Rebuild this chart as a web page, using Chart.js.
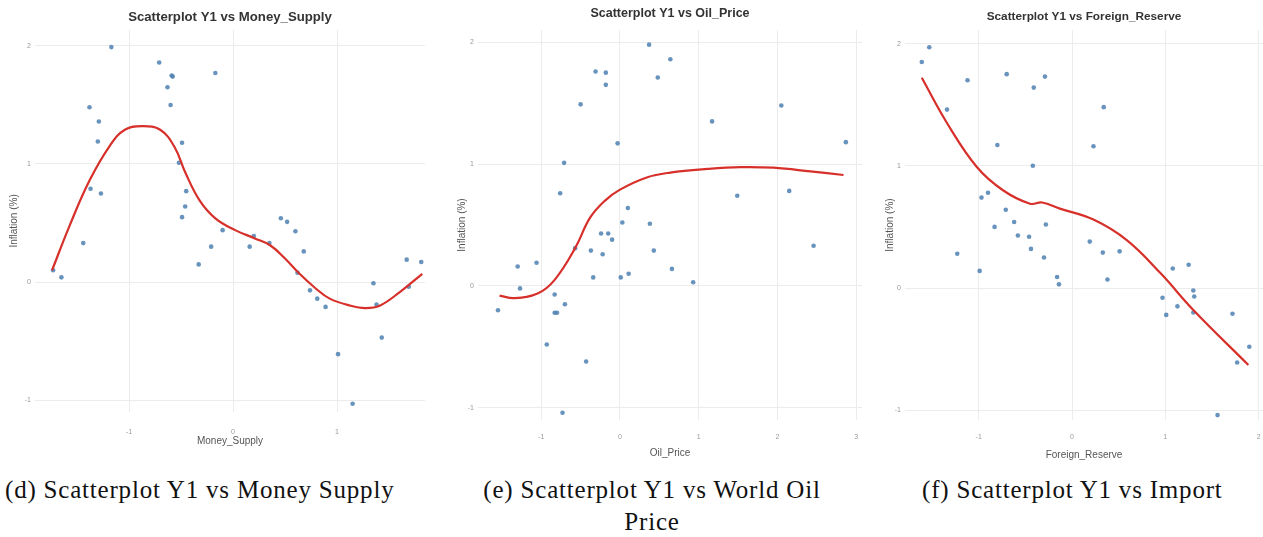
<!DOCTYPE html>
<html>
<head>
<meta charset="utf-8">
<script src="https://cdn.jsdelivr.net/npm/chart.js@4"></script>
<style>
  body { margin: 0; background: #fff; width: 1263px; height: 537px; position: relative; overflow: hidden; }
  canvas { position: absolute; top: 0; }
  .cap { position: absolute; font-family: "Liberation Serif", serif; font-size: 25px; line-height: 32px; letter-spacing: 0.8px; color: #111; white-space: nowrap; }
</style>
</head>
<body>
<canvas id="c1" width="425" height="455" style="left:0px"></canvas>
<canvas id="c2" width="422" height="465" style="left:440px"></canvas>
<canvas id="c3" width="393" height="465" style="left:870px"></canvas>
<div class="cap" style="left:5px;top:474px">(d) Scatterplot Y1 vs Money Supply</div>
<div class="cap" style="left:442px;width:420px;top:474px;text-align:center;white-space:normal">(e) Scatterplot Y1 vs World Oil<br>Price</div>
<div class="cap" style="left:922px;top:474px">(f) Scatterplot Y1 vs Import</div>
<script>
// ===== DATA =====

const yTicks = [-1, 0, 1, 2];

// Money_Supply
const msX = [-1.73, -1.65, -1.44, -1.38, -1.29, -1.30, -1.37, -1.27, -1.17, -0.71, -0.58, -0.63, -0.60, -0.59,
  -0.49, -0.52, -0.45, -0.46, -0.49, -0.17, -0.33, -0.21, -0.10, 0.16, 0.20, 0.35, 0.46, 0.52, 0.60, 0.68,
  0.62, 0.74, 0.81, 0.89, 1.01, 1.15, 1.35, 1.38, 1.43, 1.67, 1.81, 1.69];
const msY = [0.10, 0.04, 0.33, 1.48, 1.36, 1.19, 0.79, 0.75, 1.99, 1.86, 1.74, 1.65, 1.50, 1.75,
  1.18, 1.01, 0.77, 0.64, 0.55, 1.77, 0.15, 0.30, 0.44, 0.30, 0.39, 0.33, 0.54, 0.51, 0.43, 0.26,
  0.08, -0.07, -0.14, -0.21, -0.61, -1.03, -0.01, -0.19, -0.47, 0.19, 0.17, -0.04];
const msFitX = [-1.74, -1.57, -1.38, -1.18, -1.04, -0.875, -0.70, -0.56, -0.46, -0.32, -0.17, 0.02, 0.21,
  0.36, 0.50, 0.64, 0.79, 0.93, 1.13, 1.27, 1.41, 1.61, 1.82];
const msFitY = [0.10, 0.48, 0.86, 1.16, 1.29, 1.32, 1.29, 1.14, 0.93, 0.69, 0.54, 0.44, 0.37,
  0.31, 0.20, 0.07, -0.05, -0.14, -0.20, -0.22, -0.20, -0.08, 0.07];
const msTicksX = [-1, 0, 1];

// Oil_Price
const oilX = [0.37, 0.64, -0.31, -0.18, -0.18, 0.48, -0.50, 2.05, 1.17, -0.03, 2.87, -0.71, -0.76, 1.49,
  2.15, 0.10, 0.03, 0.38, 2.46, -0.24, -0.15, -0.10, -1.30, -1.06, -1.27, -1.55, -0.83, -0.70, -0.83,
  -0.80, -0.93, -0.43, -0.73, -0.37, -0.22, -0.34, 0.01, 0.11, 0.43, 0.66, 0.93, -0.57];
const oilY = [1.98, 1.86, 1.76, 1.75, 1.65, 1.71, 1.49, 1.48, 1.35, 1.17, 1.18, 1.01, 0.76, 0.74,
  0.78, 0.64, 0.52, 0.51, 0.33, 0.43, 0.43, 0.38, 0.16, 0.19, -0.02, -0.20, -0.07, -0.15, -0.22,
  -0.22, -0.48, -0.62, -1.04, 0.29, 0.26, 0.07, 0.07, 0.10, 0.29, 0.14, 0.03, 0.31];
const oilFitX = [-1.53, -1.34, -1.04, -0.83, -0.57, -0.38, -0.19, 0.0, 0.34, 0.64, 1.11, 1.53, 1.95, 2.42, 2.84];
const oilFitY = [-0.08, -0.10, -0.06, 0.05, 0.31, 0.56, 0.70, 0.79, 0.89, 0.93, 0.96, 0.975, 0.97, 0.94, 0.91];
const oilTicksX = [-1, 0, 1, 2, 3];

// Foreign_Reserve
const frX = [-1.53, -1.61, -1.12, -0.70, -0.41, -0.29, -1.34, 0.34, -0.80, 0.23, -0.42, -0.97, -0.90, -0.71,
  -0.83, -0.62, -0.58, -0.46, -0.44, -0.28, -0.30, -1.23, -0.99, -0.16, -0.14, 0.19, 0.33, 0.51, 0.38,
  1.08, 1.25, 0.97, 1.01, 1.13, 1.30, 1.31, 1.30, 1.72, 1.90, 1.77, 1.56];
const frY = [1.97, 1.85, 1.70, 1.75, 1.64, 1.73, 1.46, 1.48, 1.17, 1.16, 1.00, 0.74, 0.78, 0.64,
  0.50, 0.54, 0.43, 0.42, 0.32, 0.52, 0.25, 0.28, 0.14, 0.09, 0.03, 0.38, 0.29, 0.30, 0.07,
  0.16, 0.19, -0.08, -0.22, -0.15, -0.02, -0.07, -0.20, -0.21, -0.48, -0.61, -1.04];
const frFitX = [-1.61, -1.34, -1.02, -0.74, -0.45, -0.32, -0.13, 0.23, 0.59, 0.95, 1.30, 1.89];
const frFitY = [1.72, 1.35, 0.99, 0.80, 0.69, 0.70, 0.65, 0.56, 0.39, 0.12, -0.18, -0.63];
const frTicksX = [-1, 0, 1, 2];

// ===== HELPERS =====

const zip = (xs, ys) => xs.map((x, i) => ({ x, y: ys[i] }));

const tickFont = { family: "Liberation Sans", size: 7 };
const labelFont = { family: "Liberation Sans", size: 10 };
const gridColor = "#ececec";

function renderScatter(canvasId, p) {
  const ctx = document.getElementById(canvasId);
  const titleH = Math.round(p.titleSize * 1.2);

  return new Chart(ctx, {
    type: "scatter",
    data: {
      datasets: [
        {
          data: zip(p.x, p.y),
          backgroundColor: "rgba(78,128,178,0.85)",
          borderWidth: 0,
          pointRadius: 2.3,
          order: 2
        },
        {
          type: "line",
          data: zip(p.fitX, p.fitY),
          borderColor: "#d7302b",
          borderWidth: 2.2,
          pointRadius: 0,
          tension: 0.4,
          fill: false,
          order: 1
        }
      ]
    },
    options: {
      responsive: false,
      animation: false,
      layout: { padding: 0, autoPadding: false },
      plugins: {
        legend: { display: false },
        tooltip: { enabled: false },
        title: {
          display: true,
          text: p.title,
          fullSize: false,
          color: "#333",
          font: { family: "Liberation Sans", size: p.titleSize, weight: "bold" },
          padding: { top: p.titleY - titleH / 2, bottom: 30 - (p.titleY - titleH / 2) - titleH }
        }
      },
      scales: {
        x: {
          type: "linear",
          min: p.xMin,
          max: p.xMax,
          afterBuildTicks: s => { s.ticks = p.ticksX.map(v => ({ value: v })); },
          afterFit: s => { s.height = p.xAxisH; s.paddingLeft = 0; s.paddingRight = 0; },
          border: { display: false },
          grid: { color: gridColor, drawTicks: false },
          ticks: { color: "#999", font: tickFont, padding: p.xTickPad, maxRotation: 0 },
          title: {
            display: true,
            text: p.xLabel,
            color: "#555",
            font: labelFont,
            padding: { top: 0, bottom: p.xTitlePad }
          }
        },
        y: {
          type: "linear",
          min: p.yMin,
          max: p.yMax,
          afterBuildTicks: s => { s.ticks = yTicks.map(v => ({ value: v })); },
          afterFit: s => { s.width = p.yAxisW; s.paddingTop = 0; s.paddingBottom = 0; },
          border: { display: false },
          grid: { color: gridColor, drawTicks: false },
          ticks: { color: "#999", font: tickFont, padding: 4 },
          title: {
            display: true,
            text: "Inflation (%)",
            color: "#555",
            font: labelFont,
            padding: { top: p.yTitlePad, bottom: 0 }
          }
        }
      }
    }
  });
}

// ===== PANELS =====

renderScatter("c1", {
  title: "Scatterplot Y1 vs Money_Supply", titleY: 17, titleSize: 13.2,
  x: msX, y: msY, fitX: msFitX, fitY: msFitY, ticksX: msTicksX, xLabel: "Money_Supply",
  xMin: -1.904, xMax: 1.846, yMin: -1.10, yMax: 2.136,
  yAxisW: 35, xAxisH: 43, xTickPad: 16, xTitlePad: 8, yTitlePad: 8
});

renderScatter("c2", {
  title: "Scatterplot Y1 vs Oil_Price", titleY: 14, titleSize: 12.5,
  x: oilX, y: oilY, fitX: oilFitX, fitY: oilFitY, ticksX: oilTicksX, xLabel: "Oil_Price",
  xMin: -1.804, xMax: 3.075, yMin: -1.10, yMax: 2.10,
  yAxisW: 38, xAxisH: 45, xTickPad: 13, xTitlePad: 6, yTitlePad: 16
});

renderScatter("c3", {
  title: "Scatterplot Y1 vs Foreign_Reserve", titleY: 17, titleSize: 11.8,
  x: frX, y: frY, fitX: frFitX, fitY: frFitY, ticksX: frTicksX, xLabel: "Foreign_Reserve",
  xMin: -1.79, xMax: 2.047, yMin: -1.08, yMax: 2.11,
  yAxisW: 35, xAxisH: 45, xTickPad: 13, xTitlePad: 4, yTitlePad: 14
});
</script>
</body>
</html>
